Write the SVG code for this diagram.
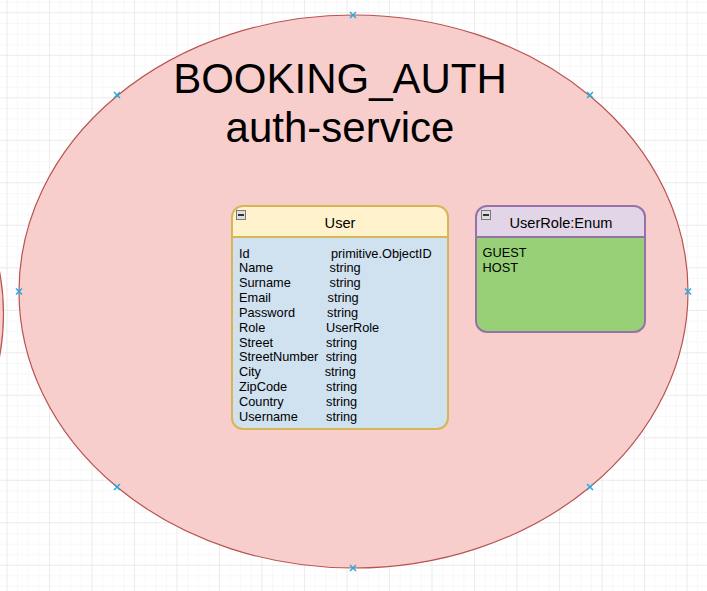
<svg xmlns="http://www.w3.org/2000/svg" width="707" height="591" viewBox="0 0 707 591">
<defs>
<pattern id="minor" x="7.5" y="2.7" width="10.625" height="10.625" patternUnits="userSpaceOnUse">
<path d="M10.625 0V10.625M0 10.625H10.625" fill="none" stroke="#f1f1f1" stroke-width="1"/>
</pattern>
<pattern id="major" x="7.5" y="13.3" width="42.5" height="42.5" patternUnits="userSpaceOnUse">
<path d="M42.5 0V42.5M0 42.5H42.5" fill="none" stroke="#e0e0e0" stroke-width="1"/>
</pattern>
<g id="cross"><path d="M-3 -3L3 3M-3 3L3 -3" stroke="#29a8e0" stroke-width="1.5" fill="none"/></g>
<g id="collapse"><rect x="0.5" y="0.5" width="9" height="9" fill="#dedede" stroke="#7a7a7a" stroke-width="1"/><rect x="2" y="4" width="6" height="2" fill="#333"/></g>
</defs>
<style>
.t{font-family:"Liberation Sans",Arial,sans-serif;fill:#000}
.title{font-size:42px;text-anchor:middle}
.hdr{font-size:14.6px;text-anchor:middle}
.f{font-size:12.75px}
</style>
<rect width="707" height="591" fill="#ffffff"/>
<rect width="707" height="591" fill="url(#minor)"/>
<rect width="707" height="591" fill="url(#major)"/>

<g id="left-partial">
<ellipse cx="-331" cy="314" rx="334.5" ry="276.5" fill="#f8cecc" stroke="#b85450" stroke-width="1.2"/>
</g>

<g id="booking-auth">
<ellipse cx="353.5" cy="291.5" rx="334.5" ry="276.5" fill="#f8cecc" stroke="#b85450" stroke-width="1.2"/>
<text class="t title" x="340" y="93">BOOKING_AUTH</text>
<text class="t title" x="340" y="142">auth-service</text>
<use href="#cross" x="353" y="15"/>
<use href="#cross" x="19" y="291.5"/>
<use href="#cross" x="688" y="291.5"/>
<use href="#cross" x="353" y="568"/>
<use href="#cross" x="117" y="95"/>
<use href="#cross" x="590" y="95"/>
<use href="#cross" x="117" y="487"/>
<use href="#cross" x="590" y="487"/>
</g>

<g id="user">
<path d="M243 206H437A11 11 0 0 1 448 217V237H232V217A11 11 0 0 1 243 206Z" fill="#fff2cc"/>
<path d="M232 237H448V418A11 11 0 0 1 437 429H243A11 11 0 0 1 232 418Z" fill="#d0e1ef"/>
<rect x="232" y="206" width="216" height="223" rx="11" ry="11" fill="none" stroke="#d6b656" stroke-width="2"/>
<line x1="232" y1="237" x2="448" y2="237" stroke="#d6b656" stroke-width="2"/>
<use href="#collapse" x="236" y="210"/>
<text class="t hdr" x="340" y="228">User</text>
<g class="t f">
<text x="239" y="257.5">Id</text><text x="331" y="257.5">primitive.ObjectID</text>
<text x="239" y="272.3">Name</text><text x="329.5" y="272.3">string</text>
<text x="239" y="287.2">Surname</text><text x="329.5" y="287.2">string</text>
<text x="239" y="302">Email</text><text x="327.5" y="302">string</text>
<text x="239" y="316.9">Password</text><text x="327" y="316.9">string</text>
<text x="239" y="331.7">Role</text><text x="326" y="331.7">UserRole</text>
<text x="239" y="346.6">Street</text><text x="326" y="346.6">string</text>
<text x="239" y="361.4">StreetNumber</text><text x="325.7" y="361.4">string</text>
<text x="239" y="376.3">City</text><text x="324.7" y="376.3">string</text>
<text x="239" y="391.1">ZipCode</text><text x="326" y="391.1">string</text>
<text x="239" y="406">Country</text><text x="326" y="406">string</text>
<text x="239" y="420.8">Username</text><text x="326" y="420.8">string</text>
</g>
</g>

<g id="userrole-enum">
<path d="M487 206H634A11 11 0 0 1 645 217V237H476V217A11 11 0 0 1 487 206Z" fill="#e1d5e7"/>
<path d="M476 237H645V321A11 11 0 0 1 634 332H487A11 11 0 0 1 476 321Z" fill="#97d077"/>
<rect x="476" y="206" width="169" height="126" rx="11" ry="11" fill="none" stroke="#9673a6" stroke-width="2"/>
<line x1="476" y1="237" x2="645" y2="237" stroke="#9673a6" stroke-width="2"/>
<use href="#collapse" x="481" y="210"/>
<text class="t hdr" x="561" y="228">UserRole:Enum</text>
<text class="t f" x="482.5" y="256.8">GUEST</text>
<text class="t f" x="482.5" y="272">HOST</text>
</g>

<g id="connectors"></g>
</svg>
